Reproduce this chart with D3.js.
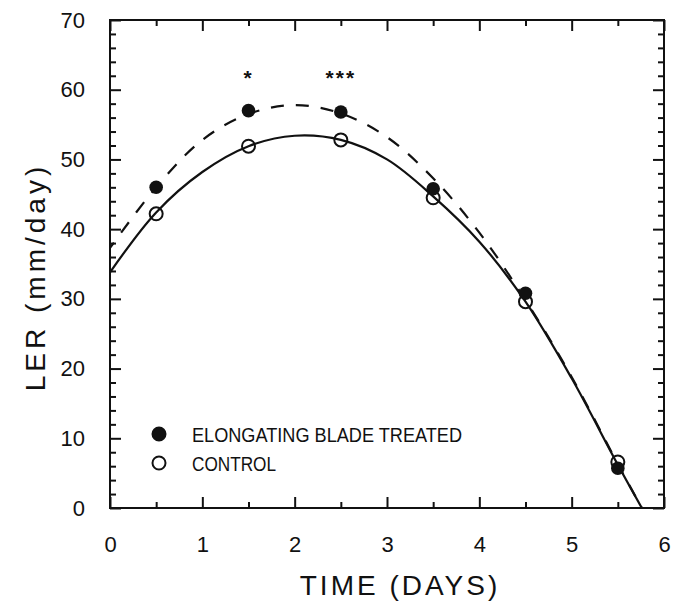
<!DOCTYPE html>
<html>
<head>
<meta charset="utf-8">
<script src="https://cdn.jsdelivr.net/npm/d3@7"></script>
<style>
  body { margin: 0; background: #fff; }
  svg { display: block; }
  text { font-family: "Liberation Sans", Arial, sans-serif; fill: #111; }
</style>
</head>
<body>
<svg id="chart" width="677" height="603"></svg>
<script>
// ---- data ----
const days = [0.5, 1.5, 2.5, 3.5, 4.5, 5.5];
const treated = [46.0, 57.0, 56.8, 45.8, 30.8, 5.7];
const control = [42.2, 51.9, 52.8, 44.5, 29.6, 6.6];

// fitted curves, read as sample points
const fitX       = [0,    0.5,  1,    1.5,  2,    2.5,  3,    3.5,  4,    4.5,  5,    5.5, 5.76];
const fitControl = [33.8, 42.4, 48.2, 51.9, 53.4, 52.8, 50.0, 44.7, 38.2, 29.6, 18.6, 6.2, 0];
const fitTreated = [37.3, 46.0, 52.8, 56.5, 57.8, 56.6, 53.2, 47.3, 39.5, 29.8, 18.8, 6.3, 0];

const xMajor = [0, 1, 2, 3, 4, 5, 6];
const xMinor = [0.5, 1.5, 2.5, 3.5, 4.5, 5.5];
const yMajor = [0, 10, 20, 30, 40, 50, 60, 70];
const yMinor = [2,4,6,8,12,14,16,18,22,24,26,28,32,34,36,38,42,44,46,48,52,54,56,58,62,64,66,68];

const marks = [{x: 1.5, label: "*"}, {x: 2.5, label: "***"}];
const legendItems = [{label: "ELONGATING BLADE TREATED", filled: true}, {label: "CONTROL", filled: false}];

// ---- layout ----
const svg = d3.select("#chart");
const L = 110, R = 664, T = 20, B = 508;
const x = d3.scaleLinear().domain([0, 6]).range([L, R]);
const y = d3.scaleLinear().domain([0, 70]).range([B, T]);

const stroke = "#111";

function styleAxis(g) {
  g.selectAll("path, line").attr("stroke", stroke).attr("stroke-width", 2);
  g.select(".domain").remove();
}

// major/minor ticks on all four sides, inward
const axes = [
  {fn: d3.axisBottom, sc: x, tr: `translate(0,${B})`, vals: xMajor, minor: xMinor, labels: true},
  {fn: d3.axisTop, sc: x, tr: `translate(0,${T})`, vals: xMajor, minor: xMinor, labels: false},
  {fn: d3.axisLeft, sc: y, tr: `translate(${L},0)`, vals: yMajor, minor: yMinor, labels: true},
  {fn: d3.axisRight, sc: y, tr: `translate(${R},0)`, vals: yMajor, minor: yMinor, labels: false}
];
axes.forEach(a => {
  const gMaj = svg.append("g").attr("transform", a.tr)
    .call(a.fn(a.sc).tickValues(a.vals).tickSizeInner(-11).tickSizeOuter(0)
      .tickPadding(a.fn === d3.axisLeft ? 25 : 28)
      .tickFormat(a.labels ? d3.format("d") : ""));
  styleAxis(gMaj);
  gMaj.selectAll("text").attr("font-size", 22).attr("font-family", "Liberation Sans, Arial, sans-serif").attr("fill", "#111");
  const gMin = svg.append("g").attr("transform", a.tr)
    .call(a.fn(a.sc).tickValues(a.minor).tickSizeInner(-6).tickSizeOuter(0).tickFormat(""));
  styleAxis(gMin);
});

// frame
svg.append("rect").attr("x", L).attr("y", T).attr("width", R - L).attr("height", B - T)
  .attr("fill", "none").attr("stroke", stroke).attr("stroke-width", 2);

// clip
svg.append("clipPath").attr("id", "clip").append("rect")
  .attr("x", L).attr("y", T).attr("width", R - L).attr("height", B - T);

const line = d3.line().x(d => x(d[0])).y(d => y(d[1])).curve(d3.curveCatmullRom.alpha(0.5));

svg.append("path").datum(fitX.map((v, i) => [v, fitControl[i]]))
  .attr("d", line).attr("fill", "none").attr("stroke", stroke).attr("stroke-width", 2.2)
  .attr("clip-path", "url(#clip)");
svg.append("path").datum(fitX.map((v, i) => [v, fitTreated[i]]))
  .attr("d", line).attr("fill", "none").attr("stroke", stroke).attr("stroke-width", 2.2)
  .attr("stroke-dasharray", "13,12").attr("stroke-dashoffset", 6).attr("clip-path", "url(#clip)");

// points
svg.selectAll(".ctl").data(days).enter().append("circle")
  .attr("cx", d => x(d)).attr("cy", (d, i) => y(control[i])).attr("r", 6.5)
  .attr("fill", "none").attr("stroke", stroke).attr("stroke-width", 2);
svg.selectAll(".trt").data(days).enter().append("circle")
  .attr("cx", d => x(d)).attr("cy", (d, i) => y(treated[i])).attr("r", 6.8)
  .attr("fill", stroke);

// significance marks
svg.selectAll(".sig").data(marks).enter().append("text")
  .attr("x", d => x(d.x)).attr("y", 85).attr("text-anchor", "middle")
  .attr("font-size", 21).attr("font-weight", "bold").attr("letter-spacing", 2)
  .text(d => d.label);

// legend
const lg = svg.append("g");
legendItems.forEach((d, i) => {
  const cy = 434 + i * 29;
  lg.append("circle").attr("cx", 159).attr("cy", cy).attr("r", 6.5)
    .attr("fill", d.filled ? stroke : "none").attr("stroke", stroke).attr("stroke-width", 2);
  lg.append("text").attr("x", 192).attr("y", cy + 8).attr("font-size", 20)
    .attr("textLength", d.filled ? 270 : 84).attr("lengthAdjust", "spacingAndGlyphs")
    .text(d.label);
});

// axis titles
svg.append("text").attr("x", 400).attr("y", 595).attr("text-anchor", "middle")
  .attr("font-size", 28).attr("letter-spacing", 3).text("TIME (DAYS)");
svg.append("text").attr("transform", "translate(45,277) rotate(-90)")
  .attr("text-anchor", "middle").attr("font-size", 28).attr("letter-spacing", 4)
  .text("LER (mm/day)");
</script>
</body>
</html>
